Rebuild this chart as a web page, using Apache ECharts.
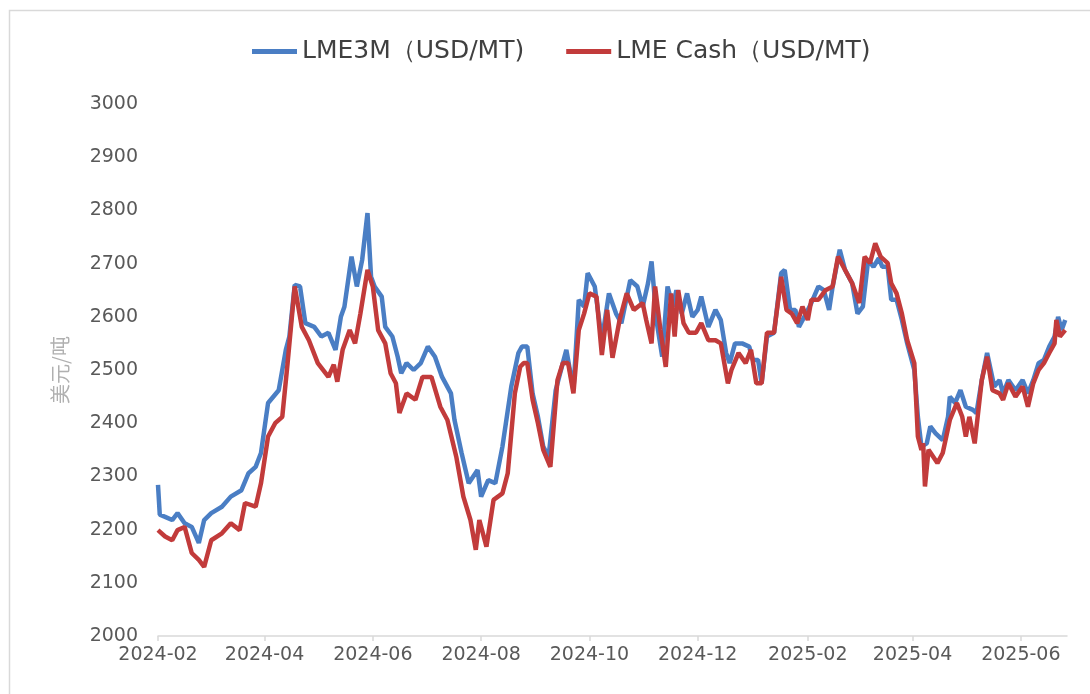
<!DOCTYPE html>
<html>
<head>
<meta charset="utf-8">
<script src="https://cdn.jsdelivr.net/npm/echarts@6/dist/echarts.min.js"></script>
<style>
html,body{margin:0;padding:0;background:#fff;}
#chart{width:1090px;height:694px;}
</style>
</head>
<body>
<div id="chart"></div>
<script>
// ---- Data ----
const seriesNames = ['LME3M（USD/MT)', 'LME Cash（USD/MT)'];

const lme3mDates = [
'2024-02-01','2024-02-02','2024-02-05','2024-02-09','2024-02-12','2024-02-16','2024-02-20','2024-02-24','2024-02-27',
'2024-03-02','2024-03-08','2024-03-13','2024-03-19','2024-03-23','2024-03-27','2024-03-30',
'2024-04-03','2024-04-09','2024-04-13','2024-04-15','2024-04-18','2024-04-21','2024-04-24','2024-04-29',
'2024-05-03','2024-05-07','2024-05-11','2024-05-14','2024-05-16','2024-05-20','2024-05-23','2024-05-26','2024-05-29','2024-05-31',
'2024-06-02','2024-06-06','2024-06-08','2024-06-12','2024-06-15','2024-06-17','2024-06-20','2024-06-24','2024-06-28',
'2024-07-02','2024-07-06','2024-07-10','2024-07-15','2024-07-17','2024-07-21','2024-07-25','2024-07-30',
'2024-08-01','2024-08-05','2024-08-09','2024-08-13','2024-08-18','2024-08-22','2024-08-24','2024-08-27','2024-08-30',
'2024-09-02','2024-09-05','2024-09-08','2024-09-12','2024-09-16','2024-09-18','2024-09-22','2024-09-25','2024-09-28','2024-09-30',
'2024-10-04','2024-10-08','2024-10-12','2024-10-16','2024-10-19','2024-10-24','2024-10-28','2024-10-31',
'2024-11-03','2024-11-05','2024-11-08','2024-11-11','2024-11-14','2024-11-17','2024-11-19','2024-11-22','2024-11-25','2024-11-28',
'2024-12-01','2024-12-03','2024-12-07','2024-12-11','2024-12-14','2024-12-17','2024-12-19','2024-12-22','2024-12-26','2024-12-30',
'2025-01-01','2025-01-04','2025-01-06','2025-01-09','2025-01-13','2025-01-17','2025-01-19','2025-01-22','2025-01-25','2025-01-27','2025-01-31',
'2025-02-03','2025-02-07','2025-02-10','2025-02-13','2025-02-15','2025-02-19','2025-02-22','2025-02-26',
'2025-03-01','2025-03-04','2025-03-07','2025-03-10','2025-03-13','2025-03-15','2025-03-18','2025-03-20','2025-03-23','2025-03-26','2025-03-29',
'2025-04-02','2025-04-04','2025-04-06','2025-04-09','2025-04-11','2025-04-14','2025-04-18','2025-04-21','2025-04-22','2025-04-25','2025-04-28',
'2025-05-01','2025-05-05','2025-05-07','2025-05-10','2025-05-13','2025-05-17','2025-05-20','2025-05-22','2025-05-25','2025-05-29',
'2025-06-02','2025-06-05','2025-06-08','2025-06-11','2025-06-14','2025-06-17','2025-06-20','2025-06-22','2025-06-24','2025-06-26'
];
const lme3mValues = [
2284,2228,2224,2218,2231,2212,2205,2175,2218,
2231,2243,2262,2274,2306,2318,2344,
2438,2462,2538,2563,2660,2657,2588,2581,
2563,2570,2538,2600,2619,2713,2657,2707,2795,2675,
2657,2638,2581,2563,2525,2494,2513,2500,2513,
2544,2525,2487,2456,2406,2344,2287,2312,
2262,2293,2287,2356,2469,2532,2544,2544,2456,
2412,2356,2337,2462,2513,2538,2462,2632,2619,2682,
2657,2556,2644,2606,2588,2669,2657,2619,
2663,2704,2588,2525,2657,2619,2650,2606,2644,2600,
2613,2638,2581,2613,2594,2532,2513,2550,2550,2544,
2519,2519,2475,2563,2570,2682,2688,2613,2613,2581,2606,
2626,2657,2650,2613,2657,2726,2688,2663,
2606,2619,2707,2694,2710,2694,2694,2632,2632,2594,2550,
2500,2412,2356,2362,2394,2381,2368,2412,2450,2438,2462,
2431,2425,2419,2481,2532,2469,2481,2456,2481,2462,
2481,2456,2481,2513,2519,2544,2563,2600,2575,2594
];

const cashDates = [
'2024-02-01','2024-02-05','2024-02-09','2024-02-12','2024-02-16','2024-02-20','2024-02-24','2024-02-27',
'2024-03-02','2024-03-08','2024-03-13','2024-03-18','2024-03-21','2024-03-27','2024-03-30',
'2024-04-03','2024-04-07','2024-04-11','2024-04-14','2024-04-18','2024-04-22','2024-04-26',
'2024-05-01','2024-05-07','2024-05-10','2024-05-12','2024-05-15','2024-05-19','2024-05-22','2024-05-25','2024-05-29',
'2024-06-01','2024-06-04','2024-06-08','2024-06-11','2024-06-14','2024-06-16','2024-06-20','2024-06-25','2024-06-29',
'2024-07-04','2024-07-09','2024-07-13','2024-07-18','2024-07-22','2024-07-26','2024-07-29','2024-07-31',
'2024-08-04','2024-08-08','2024-08-13','2024-08-16','2024-08-20','2024-08-23','2024-08-25','2024-08-27','2024-08-30',
'2024-09-02','2024-09-05','2024-09-09','2024-09-13','2024-09-16','2024-09-19','2024-09-22','2024-09-25','2024-09-28',
'2024-10-01','2024-10-05','2024-10-08','2024-10-11','2024-10-14','2024-10-18','2024-10-22','2024-10-26','2024-10-31',
'2024-11-02','2024-11-05','2024-11-07','2024-11-10','2024-11-13','2024-11-16','2024-11-18','2024-11-20','2024-11-23','2024-11-26','2024-11-30',
'2024-12-03','2024-12-07','2024-12-11','2024-12-14','2024-12-18','2024-12-20','2024-12-24','2024-12-28','2024-12-31',
'2025-01-03','2025-01-06','2025-01-09','2025-01-13','2025-01-17','2025-01-20','2025-01-23','2025-01-26','2025-01-29',
'2025-02-01','2025-02-03','2025-02-07','2025-02-11','2025-02-15','2025-02-18','2025-02-22','2025-02-26',
'2025-03-02','2025-03-05','2025-03-08','2025-03-11','2025-03-14','2025-03-18','2025-03-20','2025-03-23','2025-03-26','2025-03-29',
'2025-04-02','2025-04-04','2025-04-06','2025-04-07','2025-04-08','2025-04-10','2025-04-15','2025-04-18','2025-04-22','2025-04-26','2025-04-29',
'2025-05-01','2025-05-03','2025-05-06','2025-05-10','2025-05-13','2025-05-16','2025-05-20','2025-05-22','2025-05-25','2025-05-29',
'2025-06-02','2025-06-05','2025-06-08','2025-06-11','2025-06-14','2025-06-17','2025-06-20','2025-06-21','2025-06-23','2025-06-26'
];
const cashValues = [
2199,2187,2180,2199,2205,2156,2143,2130,
2180,2193,2212,2199,2250,2243,2287,
2375,2400,2412,2513,2657,2581,2556,
2513,2487,2510,2478,2538,2575,2550,2606,2688,
2657,2575,2550,2494,2475,2419,2456,2444,2487,
2487,2431,2406,2337,2262,2218,2162,2218,
2168,2256,2268,2306,2456,2506,2513,2513,2444,
2400,2350,2318,2481,2513,2513,2456,2575,2606,
2644,2638,2528,2613,2523,2594,2644,2613,2626,
2594,2550,2657,2575,2506,2644,2563,2650,2588,2570,2570,
2588,2556,2556,2550,2475,2500,2532,2513,2538,
2475,2475,2570,2570,2675,2613,2606,2588,2619,
2594,2632,2632,2650,2657,2713,2688,2663,
2626,2713,2701,2738,2713,2701,2663,2644,2606,2556,
2513,2375,2350,2362,2281,2350,2325,2344,2406,2438,2412,
2375,2412,2362,2481,2525,2462,2456,2444,2475,2450,
2469,2431,2475,2500,2513,2532,2550,2594,2563,2575
];

const xTickDates = ['2024-02-01','2024-04-01','2024-06-01','2024-08-01','2024-10-01','2024-12-01','2025-02-01','2025-04-01','2025-06-01'];
const xMin = '2024-02-01';
const xMax = '2025-06-27';
const yMin = 2000, yMax = 3000, yStep = 100;
const yName = '美元/吨';

// ---- Chart ----
function toTs(s) { const p = s.split('-').map(Number); return new Date(p[0], p[1] - 1, p[2]).getTime(); }
function pairs(ds, vs) { return ds.map((d, i) => [toTs(d), vs[i]]); }
function fmtMonth(v) { const d = new Date(v); return d.getFullYear() + '-' + String(d.getMonth() + 1).padStart(2, '0'); }

const chart = echarts.init(document.getElementById('chart'), null, { renderer: 'canvas' });
const font = 'DejaVu Sans';
const tickVals = xTickDates.map(toTs);

chart.setOption({
  animation: false,
  backgroundColor: '#ffffff',
  graphic: [{
    type: 'rect', left: 7, top: 8, silent: true,
    shape: { width: 1100, height: 700 },
    style: { fill: 'none', stroke: '#d9d9d9', lineWidth: 1.5 }
  }],
  legend: {
    top: 34, left: 247,
    itemWidth: 45, itemHeight: 5, itemGap: 42,
    icon: 'rect',
    textStyle: { fontFamily: font, fontSize: 25, color: '#404040' },
    data: seriesNames
  },
  grid: { left: 158, right: 23, top: 104, bottom: 58, containLabel: false },
  xAxis: {
    type: 'value',
    min: toTs(xMin), max: toTs(xMax),
    axisLine: { show: true, onZero: false, lineStyle: { color: '#d9d9d9', width: 1.5 } },
    axisTick: { show: true, customValues: tickVals, length: 5, lineStyle: { color: '#d9d9d9', width: 1.5 } },
    axisLabel: {
      customValues: tickVals,
      formatter: fmtMonth,
      fontFamily: font, fontSize: 19, color: '#595959', margin: 10
    },
    splitLine: { show: false }
  },
  yAxis: {
    type: 'value', min: yMin, max: yMax, interval: yStep,
    name: yName, nameLocation: 'middle', nameRotate: 90, nameGap: 88,
    nameTextStyle: { fontFamily: 'Noto Sans CJK SC', fontSize: 20, color: '#b0b0b0' },
    axisLine: { show: false }, axisTick: { show: false },
    axisLabel: { fontFamily: font, fontSize: 19, color: '#595959', margin: 20, formatter: v => String(v) },
    splitLine: { show: false }
  },
  series: [
    { name: seriesNames[0], type: 'line', data: pairs(lme3mDates, lme3mValues), showSymbol: false,
      lineStyle: { color: '#4a7ec4', width: 4.5 }, itemStyle: { color: '#4a7ec4' } },
    { name: seriesNames[1], type: 'line', data: pairs(cashDates, cashValues), showSymbol: false,
      lineStyle: { color: '#c23b3b', width: 4.5 }, itemStyle: { color: '#c23b3b' } }
  ]
});
</script>
</body>
</html>
